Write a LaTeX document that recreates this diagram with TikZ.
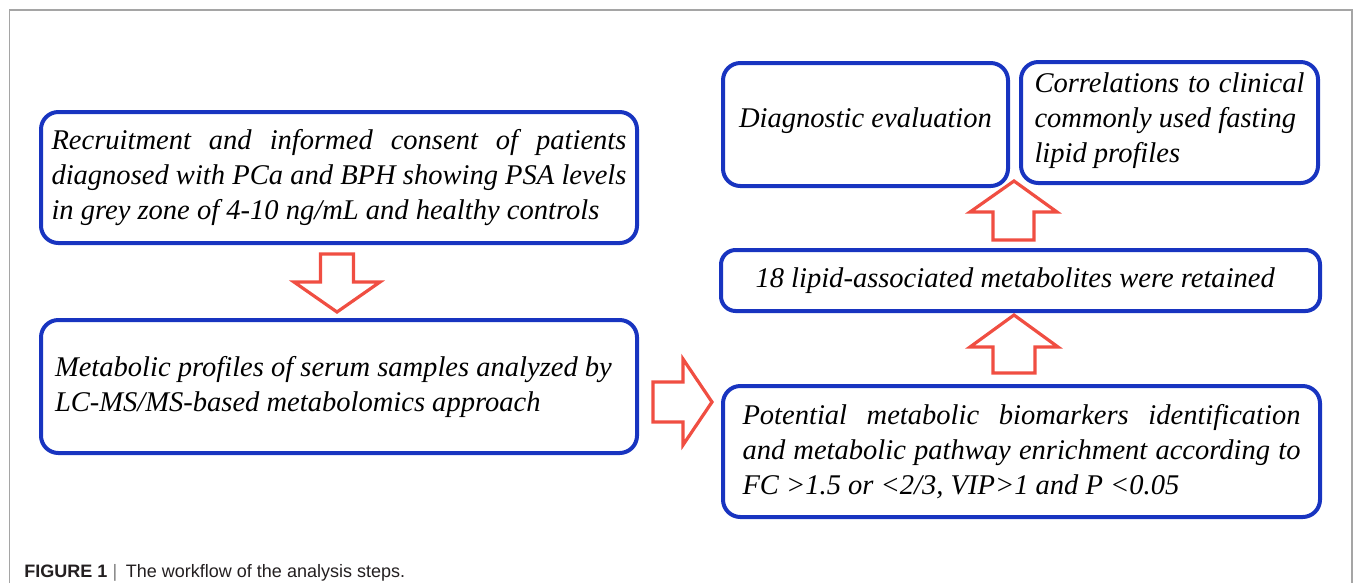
\documentclass[tikz,border=0pt]{standalone}
\usepackage{fontspec}
\setmainfont{Liberation Serif}
\newfontfamily\boxfont{Liberation Serif}
\newfontfamily\capfont{Liberation Sans}
\definecolor{boxblue}{RGB}{24,52,192}
\definecolor{arrred}{RGB}{240,78,66}
\definecolor{framegrey}{RGB}{165,165,165}
\definecolor{captext}{RGB}{35,31,32}
\newdimen\PX \PX=0.75pt
\newcommand\natsp{\spaceskip=0pt\xspaceskip=0pt\relax}
\begin{document}
\begin{tikzpicture}[x=0.75pt, y=-0.75pt,
  box/.style={draw=boxblue, line width=3pt, rounded corners=13pt, inner sep=0pt,
    align=left, font=\boxfont\itshape\fontsize{21.4pt}{26.25pt}\selectfont},
  barrow/.style={draw=arrred, line width=2.4pt, fill=white, line join=miter},
  framestyle/.style={draw=framegrey, line width=1.1pt}]
\useasboundingbox (0,0) rectangle (1357,583);
\draw[framestyle] (9.5,583) -- (9.5,10) -- (1352,10) -- (1352,583);

\node[box, minimum width=596\PX, minimum height=131\PX, text width=575\PX] (b1) at (339,177.5)
  {\natsp\makebox[575\PX][s]{Recruitment and informed consent of patients}\\
   \makebox[575\PX][s]{diagnosed with PCa and BPH showing PSA levels}\\
   in grey zone of 4-10 ng/mL and healthy controls};
\node[box, minimum width=596\PX, minimum height=133\PX, text width=568\PX] (b2) at (339,386.5)
  {\natsp Metabolic profiles of serum samples analyzed by\\
   LC-MS/MS-based metabolomics approach};
\node[box, minimum width=597\PX, minimum height=131\PX, text width=558\PX] (b3) at (1021.5,451.5)
  {\natsp\makebox[558\PX][s]{Potential metabolic biomarkers identification}\\
   \makebox[558\PX][s]{and metabolic pathway enrichment according to}\\
   FC >1.5 or <2/3, VIP>1 and P <0.05};
\node[box, rounded corners=11pt, minimum width=599\PX, minimum height=61\PX, text width=530\PX] (b4) at (1020.5,280.5)
  {\natsp 18 lipid-associated metabolites were retained};
\node[box, minimum width=285\PX, minimum height=123\PX, align=center] (b5) at (865.5,124.5)
  {\natsp Diagnostic evaluation\rule[-10.5pt]{0pt}{1pt}};
\node[box, minimum width=297\PX, minimum height=121\PX, text width=270\PX] (b6) at (1169.5,122.5)
  {\natsp\makebox[270\PX][s]{Correlations to clinical}\\
   commonly used fasting\\
   lipid profiles\rule[-7.5pt]{0pt}{1pt}};

\coordinate (t1) at (337,312);
\coordinate (t2) at (712,402);
\coordinate (t3) at (1014,315);
\coordinate (t4) at (1014,181);
\draw[barrow] (t1) -- ++(-43,-30) -- ++(26.5,0) -- ++(0,-28) -- ++(33,0)
  -- ++(0,28) -- ++(26.5,0) -- cycle;
\draw[barrow] (t2) -- ++(-29,-43) -- ++(0,23) -- ++(-30,0) -- ++(0,40)
  -- ++(30,0) -- ++(0,23) -- cycle;
\draw[barrow] (t3) -- ++(-44,32) -- ++(23,0) -- ++(0,26) -- ++(42,0)
  -- ++(0,-26) -- ++(23,0) -- cycle;
\draw[barrow] (t4) -- ++(-44,31) -- ++(23,0) -- ++(0,28) -- ++(41,0)
  -- ++(0,-28) -- ++(23,0) -- cycle;

\node[anchor=base west, inner sep=0pt, text=captext,
  font=\capfont\fontsize{13.5pt}{16pt}\selectfont] (cap) at (24,577)
  {\textbf{FIGURE 1}\hspace{4pt}{\color{gray}|}\hspace{6.5pt}The workflow of the analysis steps.};
\end{tikzpicture}
\end{document}
